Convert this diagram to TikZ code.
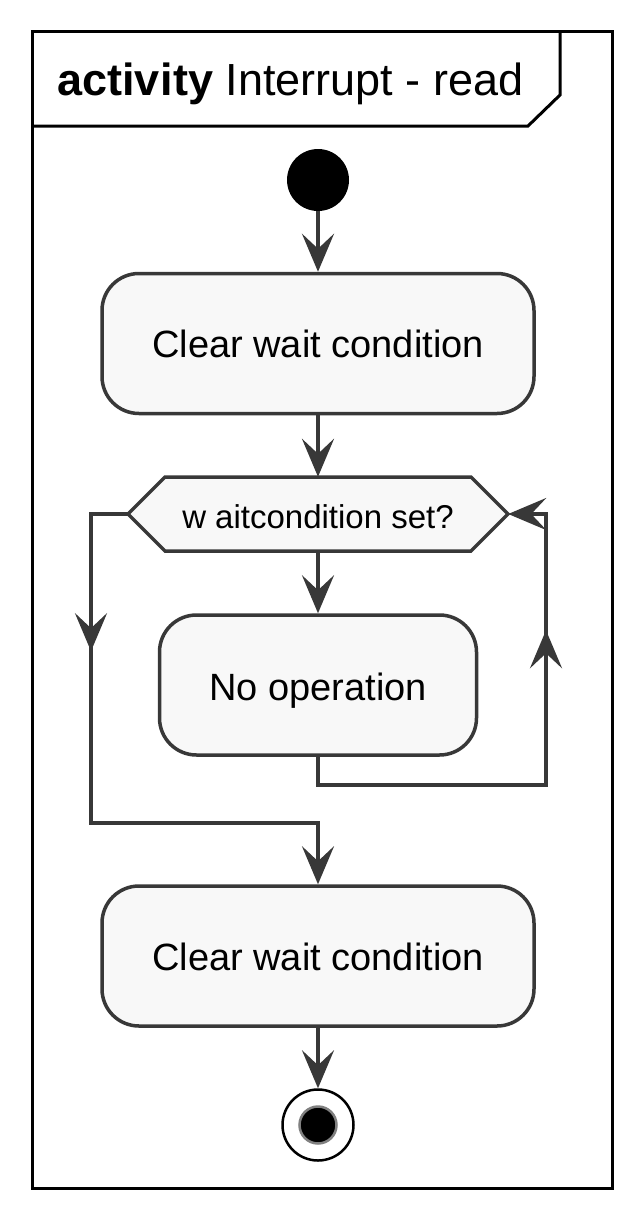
\documentclass[tikz,border=0pt]{standalone}
\usepackage{fontspec}
\setmainfont{Liberation Sans}
\usetikzlibrary{arrows.meta,decorations.markings}
\definecolor{ln}{HTML}{383838}
\definecolor{bg}{HTML}{F8F8F8}
\definecolor{ring}{HTML}{808080}
\begin{document}
\begin{tikzpicture}[x=1pt,y=-1pt,
  pumltip/.tip={Stealth[length=38pt,width=32pt,inset=15pt]},
  conn/.style={color=ln, line width=4pt, arrows={-pumltip}},
  midarrow/.style={decoration={markings, mark=at position #1 with {\arrow{pumltip}}}, postaction={decorate}},
  act/.style={draw=ln, fill=bg, line width=3.5pt, rounded corners=37pt, minimum width=432pt, minimum height=140pt, inner sep=0pt, text height=28pt, text depth=0pt, font=\fontsize{38}{44}\selectfont},
  hexshape/.style={draw=ln, fill=bg, line width=3.5pt, line join=miter},
  frameline/.style={draw=black, line width=3pt},
]
\useasboundingbox (0,0) rectangle (643,1218);
% frame
\draw[frameline] (32,31) rectangle (612,1188);
\draw[frameline] (32,126) -- (528,126) -- (560,95) -- (560,31);
\node[anchor=base west, inner sep=0pt, font=\fontsize{45}{50}\selectfont] (title) at (57,95) {\textbf{activ\kern1pt ity} Interrupt - read};
% nodes
\node[circle, fill=black, minimum size=62pt, inner sep=0pt] (start) at (318,180) {};
\node[act] (a1) at (318,343.5) {Clear wait condition};
\draw[hexshape] (128,514) -- (165,477) -- (471,477) -- (508,514) -- (471,551) -- (165,551) -- cycle;
\node[minimum width=380pt, minimum height=74pt, inner sep=0pt, text height=28pt, text depth=0pt, font=\fontsize{33}{40}\selectfont] (hex) at (318,514) {w aitcondition set?};
\node[act, minimum width=317pt, text height=30pt] (a2) at (318,685) {No operation};
\node[act] (a3) at (318,956) {Clear wait condition};
\node[circle, draw=black, line width=2.5pt, fill=white, minimum size=71pt, inner sep=0pt] (stop) at (318,1125) {};
\node[circle, draw=ring, line width=2.5pt, fill=black, minimum size=37pt, inner sep=0pt] (stopdot) at (stop.center) {};
% connectors
\coordinate (r1) at (546,785);
\coordinate (l1) at (91,823);
\draw[conn] (start.south) -- (a1.north);
\draw[conn] (a1.south) -- (hex.north);
\draw[conn] (hex.south) -- (a2.north);
\draw[conn, midarrow=411pt] (a2.south) |- (r1) |- (hex.east);
\draw[conn, midarrow=174pt] (hex.west) -| (l1) -| (a3.north);
\draw[conn] (a3.south) -- (stop.north);
\end{tikzpicture}
\end{document}
